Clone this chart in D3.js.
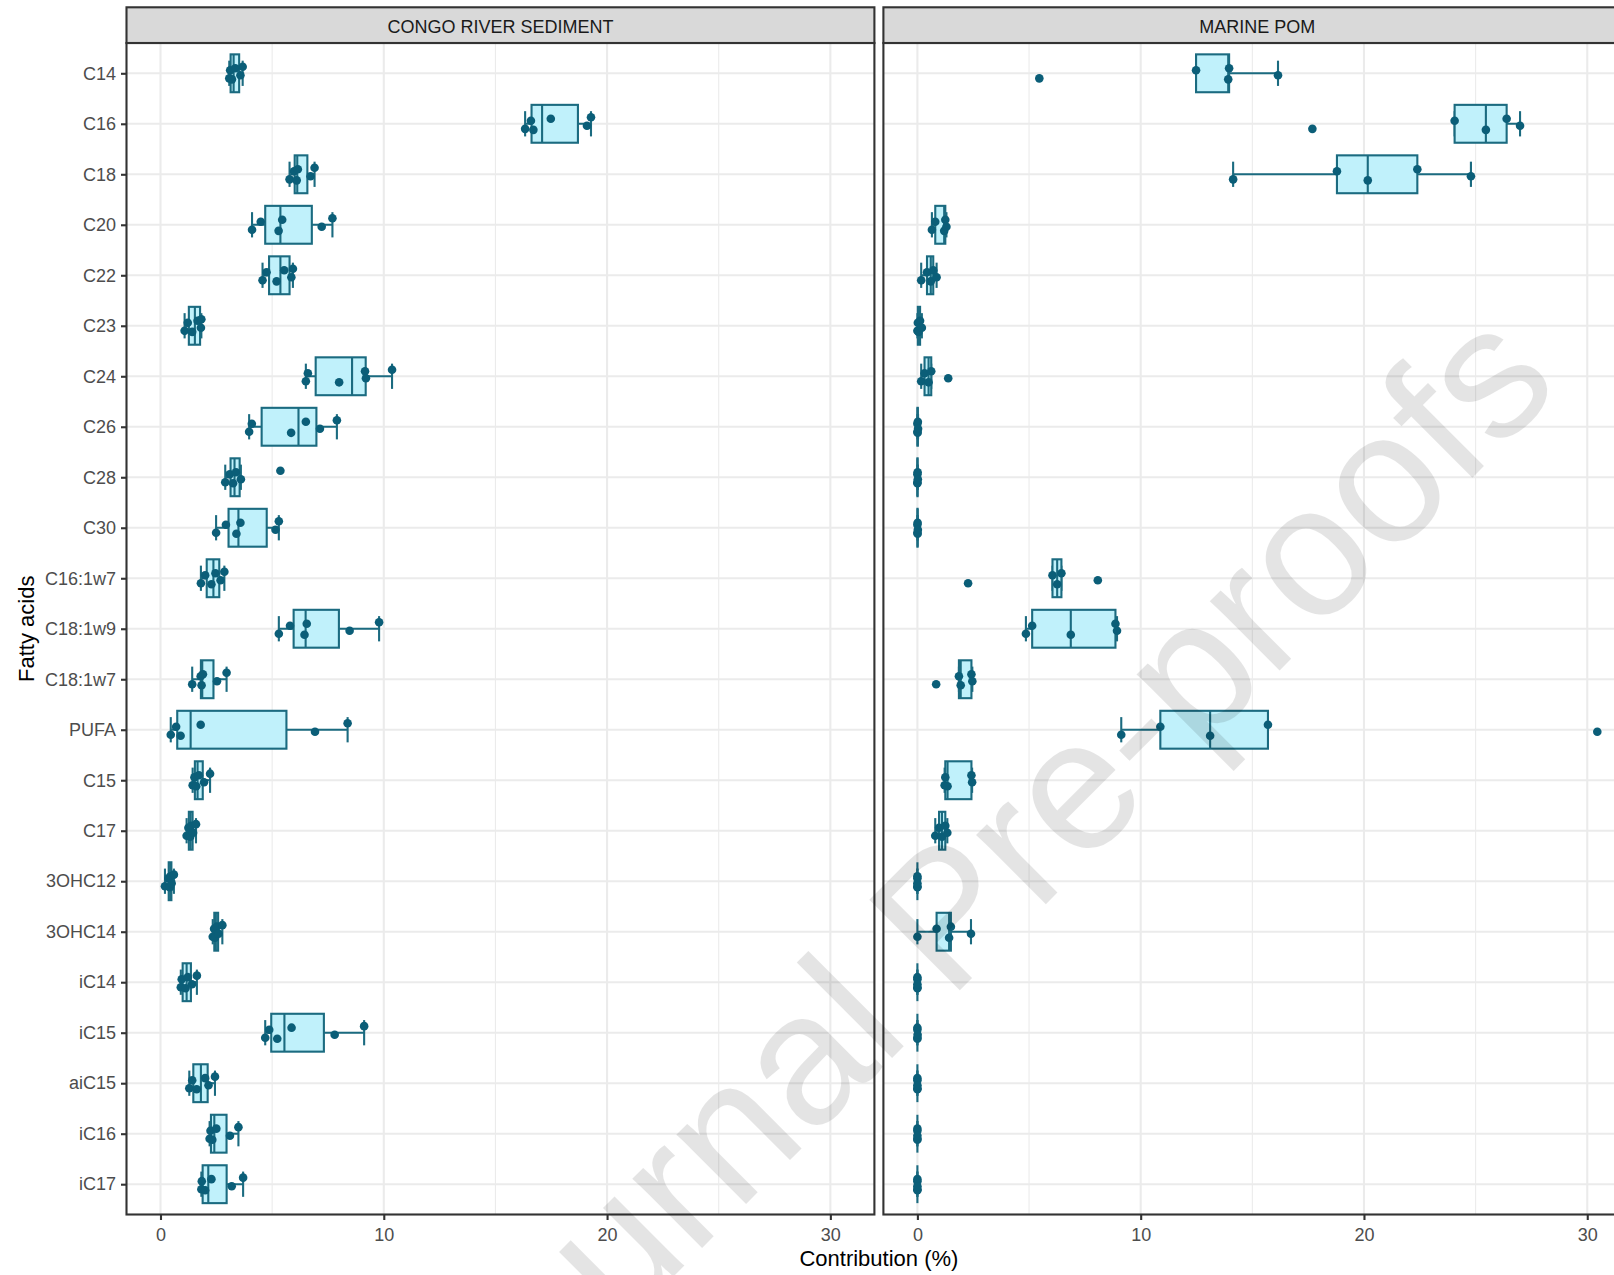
<!DOCTYPE html>
<html>
<head>
<meta charset="utf-8">
<script src="https://cdn.jsdelivr.net/npm/d3@7"></script>
<style>
  body { margin: 0; background: #fff; }
  svg { display: block; font-family: 'Liberation Sans', Arial, sans-serif; }
</style>
</head>
<body>
<div class="chart"></div>
<script>
  const width = 1614
  const height = 1275
  const margin = { top: 43, right: -20, bottom: 60, left: 126.5 }
  const stripTop = 7.3
  const panelGap = 9

  const fattyAcids = ['C14', 'C16', 'C18', 'C20', 'C22', 'C23', 'C24', 'C26', 'C28', 'C30',
    'C16:1w7', 'C18:1w9', 'C18:1w7', 'PUFA', 'C15', 'C17', '3OHC12', '3OHC14',
    'iC14', 'iC15', 'aiC15', 'iC16', 'iC17']

  const panels = ['CONGO RIVER SEDIMENT', 'MARINE POM']

  // contribution (%) of each fatty acid, one array per category
  const congoRiverSediment = [
    [3.08, 3.12, 3.2, 3.35, 3.58, 3.68],
    [16.33, 16.59, 16.7, 17.48, 19.1, 19.28],
    [5.78, 5.98, 6.1, 6.15, 6.72, 6.9],
    [4.1, 4.49, 5.29, 5.45, 7.22, 7.7],
    [4.57, 4.75, 5.2, 5.54, 5.86, 5.93],
    [1.08, 1.22, 1.42, 1.66, 1.81, 1.83],
    [6.51, 6.6, 8.0, 9.16, 9.2, 10.37],
    [3.97, 4.09, 5.85, 6.51, 7.14, 7.9],
    [2.9, 3.1, 3.25, 3.38, 3.6, 5.37],
    [2.49, 2.93, 3.4, 3.58, 5.15, 5.3],
    [1.81, 2.0, 2.28, 2.46, 2.69, 2.86],
    [5.3, 5.8, 6.45, 6.55, 8.47, 9.79],
    [1.42, 1.8, 1.84, 1.9, 2.53, 2.96],
    [0.46, 0.7, 0.9, 1.8, 6.92, 8.38],
    [1.44, 1.52, 1.6, 1.72, 1.95, 2.22],
    [1.17, 1.25, 1.33, 1.37, 1.46, 1.59],
    [0.2, 0.35, 0.42, 0.45, 0.5, 0.6],
    [2.34, 2.4, 2.44, 2.52, 2.6, 2.77],
    [0.91, 0.95, 1.12, 1.22, 1.41, 1.63],
    [4.69, 4.87, 5.23, 5.87, 7.8, 9.12],
    [1.29, 1.42, 1.62, 2.0, 2.15, 2.44],
    [2.2, 2.24, 2.32, 2.5, 3.11, 3.49],
    [1.83, 1.85, 2.0, 2.28, 3.19, 3.7],
  ]

  const marinePom = [
    [5.46, 12.48, 13.92, 13.96, 16.15],
    [17.69, 24.06, 25.46, 26.39, 26.99],
    [14.14, 18.79, 20.17, 22.39, 24.79],
    [0.65, 0.8, 1.2, 1.25, 1.3],
    [0.17, 0.43, 0.6, 0.71, 0.86],
    [0, 0.02, 0.05, 0.12, 0.2],
    [0.17, 0.32, 0.5, 0.62, 1.38],
    [0, 0, 0.01, 0.02, 0.03],
    [0, 0, 0, 0.01, 0.02],
    [0, 0, 0.01, 0.01, 0.02],
    [2.27, 6.05, 6.26, 6.45, 8.08],
    [4.86, 5.14, 6.87, 8.87, 8.94],
    [0.84, 1.86, 1.94, 2.42, 2.46],
    [9.13, 10.88, 13.11, 15.7, 30.45],
    [1.22, 1.25, 1.35, 2.42, 2.45],
    [0.8, 0.97, 1.1, 1.25, 1.34],
    [0, 0, 0, 0, 0],
    [0, 0.86, 1.42, 1.5, 2.4],
    [0, 0, 0, 0, 0],
    [0, 0, 0, 0, 0.01],
    [0, 0, 0, 0, 0],
    [0, 0, 0, 0, 0],
    [0, 0, 0, 0, 0],
  ]

  const panelValues = [congoRiverSediment, marinePom]
  const xTicks = [0, 10, 20, 30]
  const xMinorTicks = [5, 15, 25]

  const boxFill = '#c0f1fb'
  const boxStroke = '#1b6b80'
  const pointColor = '#0b5e78'

  function boxStats(vals) {
    const s = vals.slice().sort(d3.ascending)
    const q1 = d3.quantile(s, 0.25)
    const med = d3.quantile(s, 0.5)
    const q3 = d3.quantile(s, 0.75)
    const iqr = q3 - q1
    const lo = d3.min(s.filter(v => v >= q1 - 1.5 * iqr))
    const hi = d3.max(s.filter(v => v <= q3 + 1.5 * iqr))
    return { q1, med, q3, lo, hi }
  }

  const all = panelValues.flat(2)
  const ext = d3.extent(all)
  const pad = (ext[1] - ext[0]) * 0.05
  const panelWidth = 747.9
  const panelBottom = 1214.5

  const yScale = d3.scalePoint()
    .domain(fattyAcids)
    .range([margin.top, panelBottom])
    .padding(0.6)
  const step = yScale.step()

  const svg = d3.select('.chart').append('svg')
    .attr('width', width)
    .attr('height', height)

  svg.append('rect').attr('width', width).attr('height', height).attr('fill', '#fff')

  // small fixed vertical jitter (fraction of row step)
  const jitter = [0.1, -0.06, 0.12, -0.1, 0.04, -0.13]

  panels.forEach((name, p) => {
    const x0 = margin.left + p * (panelWidth + panelGap)
    const xScale = d3.scaleLinear()
      .domain([ext[0] - pad, ext[1] + pad])
      .range([x0, x0 + panelWidth])

    const g = svg.append('g').attr('class', 'panel')

    // grid
    g.selectAll('.minor')
      .data(xMinorTicks)
      .join('line')
      .attr('x1', d => xScale(d)).attr('x2', d => xScale(d))
      .attr('y1', margin.top).attr('y2', panelBottom)
      .attr('stroke', '#ebebeb').attr('stroke-width', 1.1)
    g.selectAll('.majorx')
      .data(xTicks)
      .join('line')
      .attr('x1', d => xScale(d)).attr('x2', d => xScale(d))
      .attr('y1', margin.top).attr('y2', panelBottom)
      .attr('stroke', '#ebebeb').attr('stroke-width', 2.1)
    g.selectAll('.majory')
      .data(fattyAcids)
      .join('line')
      .attr('x1', x0).attr('x2', x0 + panelWidth)
      .attr('y1', d => yScale(d)).attr('y2', d => yScale(d))
      .attr('stroke', '#ebebeb').attr('stroke-width', 2.1)

    const groups = fattyAcids.map((fa, i) => ({
      fa,
      vals: panelValues[p][i],
      stats: boxStats(panelValues[p][i]),
    }))

    const grp = g.selectAll('.grp')
      .data(groups)
      .join('g')
      .attr('class', 'grp')

    // errorbar (whiskers + caps)
    grp.append('line')
      .attr('x1', d => xScale(d.stats.lo)).attr('x2', d => xScale(d.stats.hi))
      .attr('y1', d => yScale(d.fa)).attr('y2', d => yScale(d.fa))
      .attr('stroke', boxStroke).attr('stroke-width', 2.1)
    grp.selectAll('.cap')
      .data(d => [d.stats.lo, d.stats.hi].map(v => ({ v, fa: d.fa })))
      .join('line')
      .attr('x1', d => xScale(d.v)).attr('x2', d => xScale(d.v))
      .attr('y1', d => yScale(d.fa) - step * 0.25).attr('y2', d => yScale(d.fa) + step * 0.25)
      .attr('stroke', boxStroke).attr('stroke-width', 2.1)

    // box
    grp.append('rect')
      .attr('x', d => xScale(d.stats.q1))
      .attr('width', d => xScale(d.stats.q3) - xScale(d.stats.q1))
      .attr('y', d => yScale(d.fa) - step * 0.375)
      .attr('height', step * 0.75)
      .attr('fill', boxFill)
      .attr('stroke', boxStroke).attr('stroke-width', 2.1)
    grp.append('line')
      .attr('x1', d => xScale(d.stats.med)).attr('x2', d => xScale(d.stats.med))
      .attr('y1', d => yScale(d.fa) - step * 0.375).attr('y2', d => yScale(d.fa) + step * 0.375)
      .attr('stroke', boxStroke).attr('stroke-width', 2.1)

    // points
    grp.selectAll('circle')
      .data(d => d.vals.map((v, k) => ({ v, k, fa: d.fa })))
      .join('circle')
      .attr('cx', d => xScale(d.v))
      .attr('cy', d => yScale(d.fa) + jitter[d.k % jitter.length] * step)
      .attr('r', 4.3)
      .attr('fill', pointColor)

    // border
    g.append('rect')
      .attr('x', x0).attr('y', margin.top)
      .attr('width', panelWidth).attr('height', panelBottom - margin.top)
      .attr('fill', 'none').attr('stroke', '#333').attr('stroke-width', 2.1)

    // strip
    g.append('rect')
      .attr('x', x0).attr('y', stripTop)
      .attr('width', panelWidth).attr('height', margin.top - stripTop)
      .attr('fill', '#d9d9d9').attr('stroke', '#333').attr('stroke-width', 2.1)
    g.append('text')
      .attr('x', x0 + panelWidth / 2)
      .attr('y', 33.2)
      .attr('text-anchor', 'middle')
      .attr('font-size', '18px')
      .attr('fill', '#1a1a1a')
      .text(name)

    // x axis
    const xAxis = d3.axisBottom(xScale)
      .tickValues(xTicks)
      .tickSize(5.5)
      .tickPadding(8)
      .tickSizeOuter(0)
    const ax = svg.append('g')
      .attr('class', 'x-axis')
      .attr('transform', `translate(0, ${panelBottom})`)
      .call(xAxis)
    ax.select('.domain').remove()
    ax.selectAll('.tick line').attr('stroke', '#333').attr('stroke-width', 2.1)
    ax.selectAll('.tick text')
      .attr('fill', '#4d4d4d')
      .style('font-size', '18px')
      .style('font-family', 'Liberation Sans, Arial, sans-serif')
  })

  // y axis
  const yAxis = d3.axisLeft(yScale)
    .tickSize(5.5)
    .tickPadding(5)
    .tickSizeOuter(0)
  const ay = svg.append('g')
    .attr('class', 'y-axis')
    .attr('transform', `translate(${margin.left}, 0)`)
    .call(yAxis)
  ay.select('.domain').remove()
  ay.selectAll('.tick line').attr('stroke', '#333').attr('stroke-width', 2.1)
  ay.selectAll('.tick text')
    .attr('fill', '#4d4d4d')
    .style('font-size', '18px')
    .style('font-family', 'Liberation Sans, Arial, sans-serif')

  // axis titles
  svg.append('text')
    .attr('x', (margin.left + 2 * panelWidth + panelGap + margin.left) / 2)
    .attr('y', 1266)
    .attr('text-anchor', 'middle')
    .attr('font-size', '22px')
    .attr('fill', '#000')
    .text('Contribution (%)')

  svg.append('text')
    .attr('transform', `translate(34, ${(margin.top + panelBottom) / 2}) rotate(-90)`)
    .attr('text-anchor', 'middle')
    .attr('font-size', '22px')
    .attr('fill', '#000')
    .text('Fatty acids')

  // watermark (runs off the bottom edge, as in the source image)
  svg.append('text')
    .attr('transform', 'translate(1022, 928) rotate(-45)')
    .attr('text-anchor', 'middle')
    .attr('font-size', '186px')
    .attr('fill', '#000')
    .attr('opacity', 0.1)
    .text('Journal Pre-proofs')
</script>
</body>
</html>
